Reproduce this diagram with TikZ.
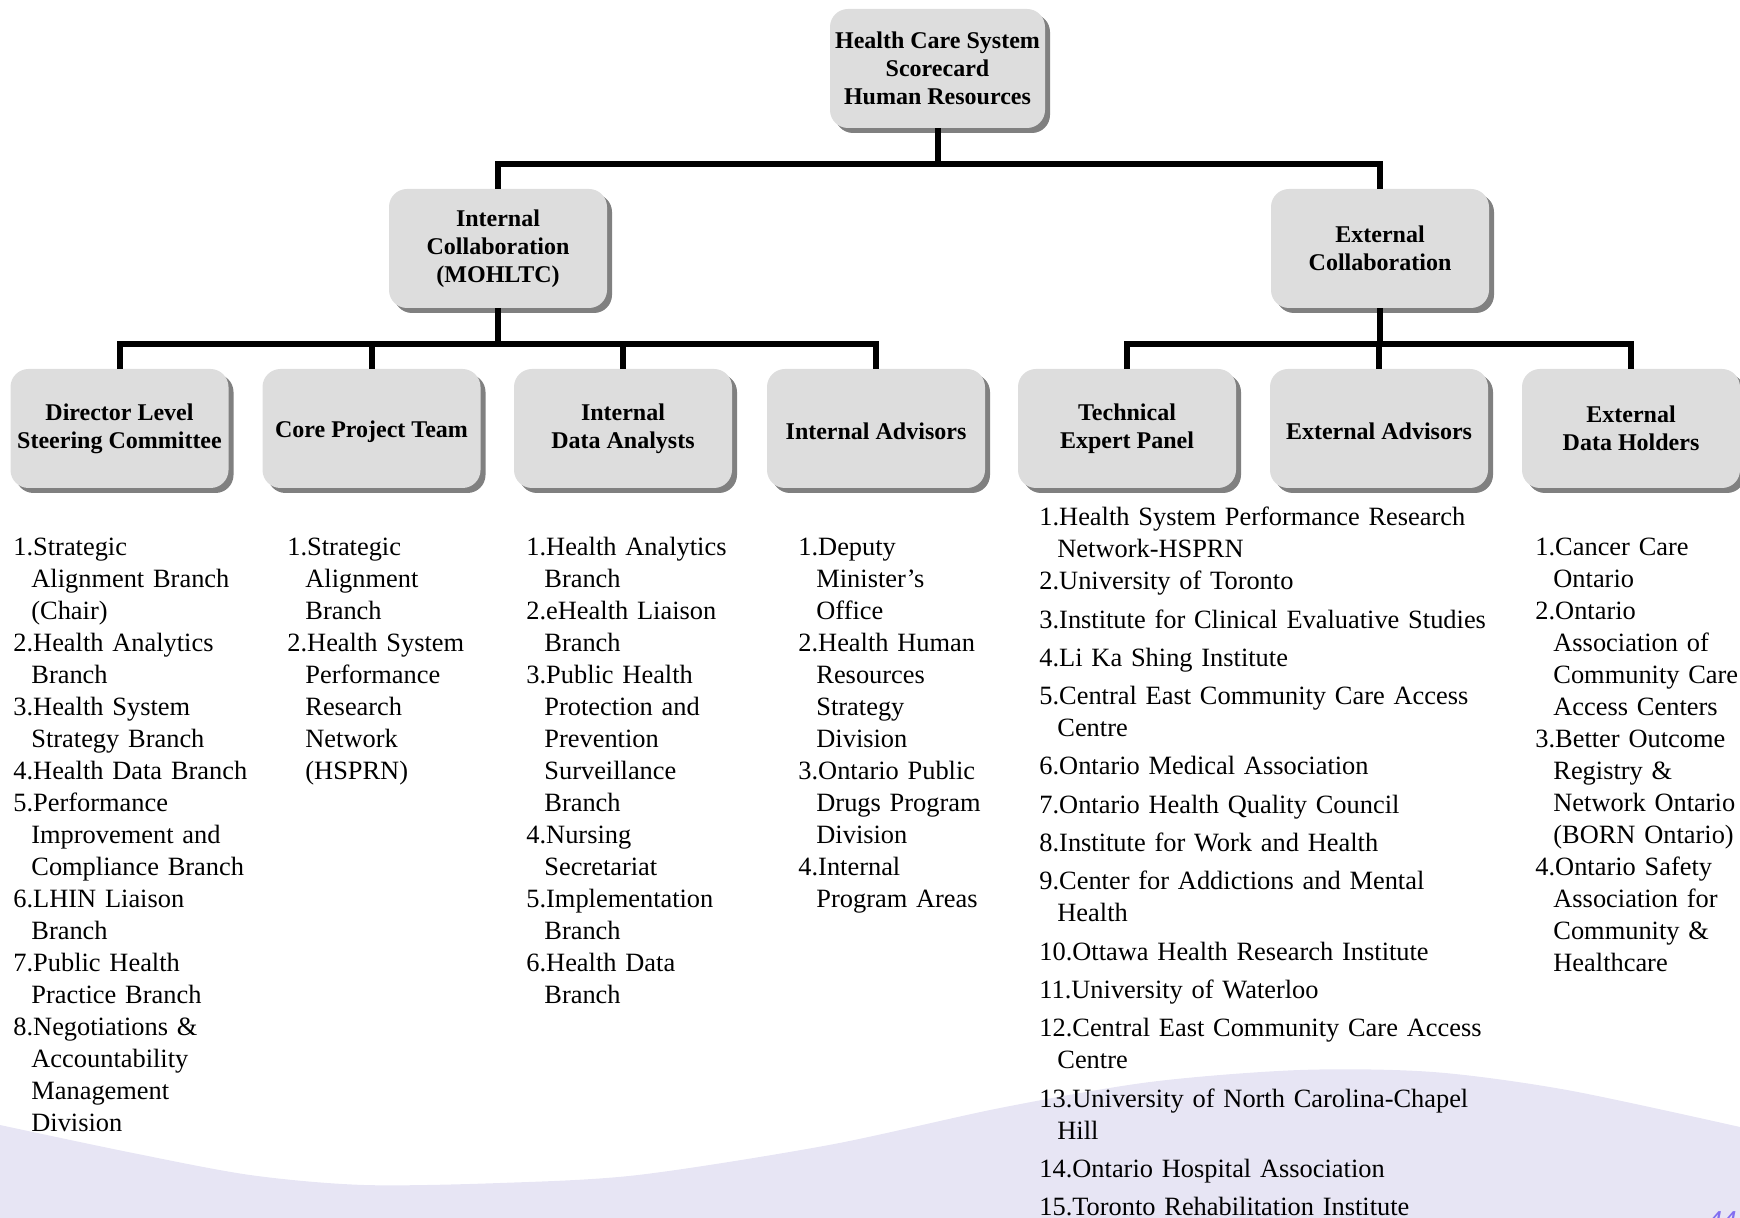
\documentclass[tikz,border=0pt]{standalone}
\usepackage{fontspec}
\setmainfont{Liberation Serif}
\setsansfont{Liberation Sans}
\usepackage{tikz}
\usetikzlibrary{shapes,arrows,positioning,calc,shadows}

\definecolor{boxgray}{RGB}{221,221,221}
\definecolor{shadowgray}{RGB}{128,128,128}
\definecolor{wavecol}{RGB}{231,229,244}
\definecolor{pagenum}{RGB}{130,110,240}

% one numbered entry, continuation lines hang under the text
\newcommand{\li}[1]{\hangindent=9pt\hangafter=1\noindent\strut#1\par}

\begin{document}
\begin{tikzpicture}[x=0.5pt,y=-0.5pt,
    unit/.style={rectangle, rounded corners=9pt, fill=boxgray, align=center,
        font=\fontsize{12}{14}\selectfont\bfseries, inner sep=2pt,
        minimum width=109pt, minimum height=59.5pt,
        execute at begin node={\rule{0pt}{11.4pt}},
        drop shadow={fill=shadowgray, opacity=1, shadow xshift=2.5pt, shadow yshift=-2.5pt}},
    link/.style={line width=3pt},
    members/.style={anchor=north west, inner sep=0pt, align=left, text width=#1,
        font=\fontsize{13.2}{16}\selectfont}]

    \useasboundingbox (0,0) rectangle (1740,1218);

    % background swoosh
    \fill[wavecol] plot[smooth] coordinates {(0,1125) (128,1152) (250,1175) (364,1185)
        (500,1183) (638,1175) (829,1145) (1000,1108) (1150,1082) (1300,1070)
        (1433,1072) (1567,1090) (1740,1127)} -- (1740,1230) -- (0,1230) -- cycle;

    % top
    \node[unit, minimum width=107.5pt] (hcs) at (937.5,68.5) {Health Care System\\Scorecard\\Human Resources};

    % second level
    \node[unit] (int) at (498,248.5) {Internal\\Collaboration\\(MOHLTC)};
    \node[unit] (ext) at (1380,248.5) {External\\Collaboration};

    % third level
    \node[unit] (dsc) at (119.5,428.5) {Director Level\\Steering Committee};
    \node[unit] (cpt) at (371.5,428.5) {Core Project Team};
    \node[unit] (ida) at (623,428.5) {Internal\\Data Analysts};
    \node[unit] (iad) at (876,428.5) {Internal Advisors};
    \node[unit] (tep) at (1127,428.5) {Technical\\Expert Panel};
    \node[unit] (ead) at (1379,428.5) {External Advisors};
    \node[unit] (edh) at (1631,428.5) {External\\Data Holders};

    % connectors
    \coordinate (bus1) at (0,164);
    \coordinate (bus2) at (0,344);
    \draw[link] (hcs.south) -- (hcs.south |- bus1);
    \draw[link] (int.north) |- (bus1 -| ext.north) -- (ext.north);
    \draw[link] (int.south) -- (int.south |- bus2);
    \draw[link] (dsc.north) |- (bus2 -| iad.north) -- (iad.north);
    \foreach \n in {cpt,ida}
        \draw[link] (\n.north) -- (\n.north |- bus2);
    \draw[link] (ext.south) -- (ext.south |- bus2);
    \draw[link] (tep.north) |- (bus2 -| edh.north) -- (edh.north);
    \draw[link] (ead.north) -- (ead.north |- bus2);

    % member lists
    \node[members=125pt] (dscl) at (13,532.6) {%
        \li{1.Strategic\newline Alignment Branch\newline (Chair)}
        \li{2.Health Analytics\newline Branch}
        \li{3.Health System\newline Strategy Branch}
        \li{4.Health Data Branch}
        \li{5.Performance\newline Improvement and\newline Compliance Branch}
        \li{6.LHIN Liaison\newline Branch}
        \li{7.Public Health\newline Practice Branch}
        \li{8.Negotiations \&\newline Accountability\newline Management\newline Division}};

    \node[members=110pt] (cptl) at (287,532.6) {%
        \li{1.Strategic\newline Alignment\newline Branch}
        \li{2.Health System\newline Performance\newline Research\newline Network\newline (HSPRN)}};

    \node[members=120pt] (idal) at (526,532.6) {%
        \li{1.Health Analytics\newline Branch}
        \li{2.eHealth Liaison\newline Branch}
        \li{3.Public Health\newline Protection and\newline Prevention\newline Surveillance\newline Branch}
        \li{4.Nursing\newline Secretariat}
        \li{5.Implementation\newline Branch}
        \li{6.Health Data\newline Branch}};

    \node[members=120pt] (iadl) at (798,532.6) {%
        \li{1.Deputy\newline Minister’s\newline Office}
        \li{2.Health Human\newline Resources\newline Strategy\newline Division}
        \li{3.Ontario Public\newline Drugs Program\newline Division}
        \li{4.Internal\newline Program Areas}};

    \node[members=260pt] (tepl) at (1039,503) {%
        \parskip=3.15pt
        \li{1.Health System Performance Research\newline Network-HSPRN}
        \vspace{-3.15pt}
        \li{2.University of Toronto}
        \li{3.Institute for Clinical Evaluative Studies}
        \li{4.Li Ka Shing Institute}
        \li{5.Central East Community Care Access\newline Centre}
        \li{6.Ontario Medical Association}
        \li{7.Ontario Health Quality Council}
        \li{8.Institute for Work and Health}
        \li{9.Center for Addictions and Mental\newline Health}
        \li{10.Ottawa Health Research Institute}
        \li{11.University of Waterloo}
        \li{12.Central East Community Care Access\newline Centre}
        \li{13.University of North Carolina-Chapel\newline Hill}
        \li{14.Ontario Hospital Association}
        \li{15.Toronto Rehabilitation Institute}};

    \node[members=110pt] (edhl) at (1535,532.6) {%
        \li{1.Cancer Care\newline Ontario}
        \li{2.Ontario\newline Association of\newline Community Care\newline Access Centers}
        \li{3.Better Outcome\newline Registry \&\newline Network Ontario\newline (BORN Ontario)}
        \li{4.Ontario Safety\newline Association for\newline Community \&\newline Healthcare}};

    % slide number
    \node[anchor=base east, inner sep=0pt, text=pagenum,
        font=\sffamily\itshape\fontsize{13}{13}\selectfont] (pg) at (1737,1229) {44};
\end{tikzpicture}
\end{document}
